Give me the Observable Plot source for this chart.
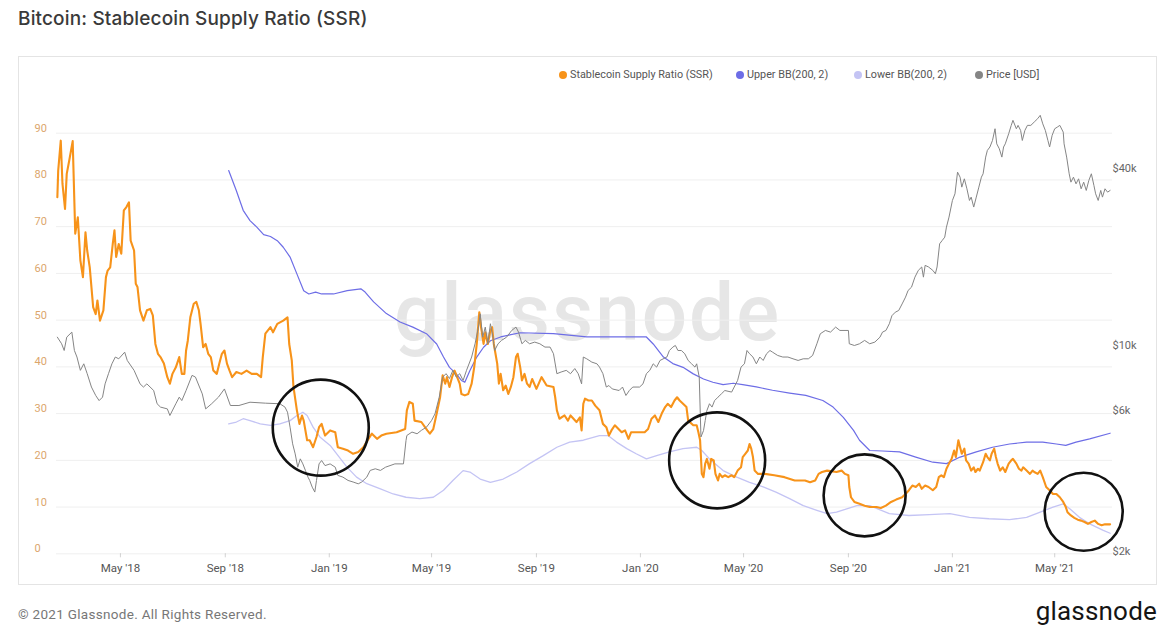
<!DOCTYPE html>
<html>
<head>
<meta charset="utf-8">
<script src="https://cdn.jsdelivr.net/npm/d3@7"></script>
<script src="https://cdn.jsdelivr.net/npm/@observablehq/plot@0.6"></script>
<style>
  html, body { margin: 0; padding: 0; background: #fff; }
  body { width: 1173px; height: 641px; position: relative; overflow: hidden; font-family: Inter, Roboto, "Noto Sans", sans-serif; }
  #title { position: absolute; left: 18px; top: 8px; font-size: 19px; line-height: 22px; font-weight: 500; color: #3a3a3a; white-space: nowrap; letter-spacing: 0.15px; }
  #box { position: absolute; left: 18px; top: 56px; width: 1139px; height: 529px; border: 1px solid #e4e4e4; box-sizing: border-box; }
  #watermark { position: absolute; left: 0; width: 1175px; top: 273px; text-align: center; font-family: Roboto, sans-serif; font-weight: 500; font-size: 80px; line-height: 80px; letter-spacing: 2px; color: #e6e6e6; white-space: nowrap; }
  .legend-item { position: absolute; top: 68px; height: 14px; line-height: 14px; font-size: 10.8px; color: #555; white-space: nowrap; font-family: Roboto, sans-serif; }
  .legend-dot { position: absolute; top: 71px; width: 8px; height: 8px; border-radius: 50%; }
  #chart { position: absolute; left: 18px; top: 95px; }
  #copyright { position: absolute; left: 18px; top: 606px; font-size: 13.5px; line-height: 17px; color: #777; font-family: Roboto, sans-serif; letter-spacing: 0.3px; }
  #logo { position: absolute; right: 16px; top: 596px; font-size: 26px; line-height: 30px; color: #151515; font-family: Roboto, sans-serif; letter-spacing: 0.2px; }
</style>
</head>
<body>
<div id="title">Bitcoin: Stablecoin Supply Ratio (SSR)</div>
<div id="box"></div>
<div id="watermark">glassnode</div>
<div id="legend"></div>
<div id="chart"></div>
<div id="copyright">© 2021 Glassnode. All Rights Reserved.</div>
<div id="logo">glassnode</div>
<script>
// Stablecoin Supply Ratio (left axis)
const ssr = [
  ["2018-02-16",76.3],["2018-02-17",82.0],["2018-02-20",88.4],["2018-02-22",79.2],["2018-02-25",73.8],["2018-02-27",81.3],
  ["2018-03-02",84.2],["2018-03-06",88.3],["2018-03-09",68.5],["2018-03-12",72.0],["2018-03-15",62.8],["2018-03-18",59.2],
  ["2018-03-21",68.8],["2018-03-23",64.9],["2018-03-26",61.3],["2018-03-30",52.8],["2018-04-02",51.3],["2018-04-04",54.2],
  ["2018-04-07",49.9],["2018-04-11",52.1],["2018-04-14",59.2],["2018-04-16",60.6],["2018-04-19",61.3],["2018-04-22",66.3],
  ["2018-04-24",69.2],["2018-04-26",63.5],["2018-04-29",66.3],["2018-05-02",64.2],["2018-05-05",73.5],["2018-05-08",74.2],
  ["2018-05-11",75.2],["2018-05-13",67.0],["2018-05-17",64.9],["2018-05-19",57.8],["2018-05-21",57.1],["2018-05-24",52.1],
  ["2018-05-28",49.9],["2018-06-01",52.1],["2018-06-05",52.4],["2018-06-08",51.0],["2018-06-11",44.9],["2018-06-14",42.8],
  ["2018-06-17",42.1],["2018-06-21",40.7],["2018-06-25",37.8],["2018-06-28",36.4],["2018-07-01",38.5],["2018-07-05",39.9],
  ["2018-07-09",42.1],["2018-07-12",38.5],["2018-07-15",38.5],["2018-07-17",43.5],["2018-07-19",45.6],["2018-07-22",50.6],
  ["2018-07-26",53.5],["2018-07-29",53.9],["2018-08-01",52.1],["2018-08-03",49.2],["2018-08-06",44.2],["2018-08-09",44.9],
  ["2018-08-12",42.8],["2018-08-15",42.1],["2018-08-18",39.2],["2018-08-22",38.5],["2018-08-25",40.7],["2018-08-28",42.8],
  ["2018-08-31",43.5],["2018-09-03",40.7],["2018-09-06",39.2],["2018-09-09",37.8],["2018-09-14",38.9],["2018-09-20",38.5],
  ["2018-09-26",39.2],["2018-10-02",38.5],["2018-10-08",38.5],["2018-10-13",37.8],["2018-10-15",42.1],["2018-10-18",47.1],
  ["2018-10-24",48.5],["2018-10-27",47.4],["2018-11-01",49.2],["2018-11-08",49.9],["2018-11-13",50.6],["2018-11-15",44.9],
  ["2018-11-18",41.4],["2018-11-20",35.7],["2018-11-24",30.7],["2018-11-27",27.8],["2018-11-30",29.6],["2018-12-02",28.5],
  ["2018-12-06",24.3],["2018-12-09",24.3],["2018-12-13",22.8],["2018-12-17",25.0],["2018-12-20",27.1],["2018-12-23",27.8],
  ["2018-12-27",25.3],["2019-01-02",26.4],["2019-01-08",26.0],["2019-01-11",22.8],["2019-01-17",22.5],["2019-01-23",22.1],
  ["2019-01-29",21.4],["2019-02-04",21.8],["2019-02-10",22.8],["2019-02-16",24.6],["2019-02-20",25.7],["2019-02-26",24.6],
  ["2019-03-03",25.3],["2019-03-09",25.7],["2019-03-21",26.0],["2019-03-31",26.7],["2019-04-02",30.7],["2019-04-05",32.5],
  ["2019-04-09",32.1],["2019-04-11",28.5],["2019-04-19",28.2],["2019-04-26",26.4],["2019-04-29",25.7],["2019-05-03",26.7],
  ["2019-05-07",30.0],["2019-05-11",33.5],["2019-05-14",38.2],["2019-05-17",36.4],["2019-05-19",37.8],["2019-05-22",35.7],
  ["2019-05-25",37.8],["2019-05-28",39.2],["2019-05-31",37.8],["2019-06-03",36.4],["2019-06-05",34.2],["2019-06-09",33.9],
  ["2019-06-13",34.2],["2019-06-17",36.4],["2019-06-20",39.9],["2019-06-23",44.9],["2019-06-26",51.7],["2019-06-28",48.5],
  ["2019-07-01",44.9],["2019-07-03",47.4],["2019-07-06",44.9],["2019-07-09",47.8],["2019-07-11",48.5],["2019-07-13",44.9],
  ["2019-07-17",40.7],["2019-07-19",36.4],["2019-07-21",38.5],["2019-07-24",35.0],["2019-07-27",36.0],["2019-07-30",34.2],
  ["2019-08-02",35.7],["2019-08-05",37.8],["2019-08-08",42.1],["2019-08-10",42.8],["2019-08-13",39.9],["2019-08-15",37.1],
  ["2019-08-18",38.5],["2019-08-21",36.4],["2019-08-24",35.7],["2019-08-27",37.4],["2019-09-01",35.3],["2019-09-07",37.8],
  ["2019-09-13",36.0],["2019-09-21",35.7],["2019-09-23",33.5],["2019-09-25",30.7],["2019-09-28",28.9],["2019-10-04",29.6],
  ["2019-10-08",28.5],["2019-10-11",29.6],["2019-10-18",28.2],["2019-10-22",29.2],["2019-10-24",26.4],["2019-10-26",32.1],
  ["2019-10-28",33.2],["2019-11-01",32.8],["2019-11-05",32.8],["2019-11-09",31.7],["2019-11-14",30.7],["2019-11-18",27.8],
  ["2019-11-22",27.1],["2019-11-25",25.3],["2019-11-28",26.4],["2019-12-02",27.5],["2019-12-10",26.0],["2019-12-14",26.4],
  ["2019-12-18",24.6],["2019-12-21",26.0],["2019-12-29",26.0],["2020-01-06",26.0],["2020-01-10",26.7],["2020-01-14",28.9],
  ["2020-01-18",29.6],["2020-01-22",28.2],["2020-01-26",30.0],["2020-01-30",31.4],["2020-02-02",32.1],["2020-02-06",31.4],
  ["2020-02-10",32.8],["2020-02-13",33.5],["2020-02-16",32.8],["2020-02-20",32.1],["2020-02-24",31.4],["2020-02-26",28.5],
  ["2020-03-03",27.5],["2020-03-07",27.5],["2020-03-09",26.0],["2020-03-11",24.3],["2020-03-13",17.1],["2020-03-15",16.4],
  ["2020-03-17",19.3],["2020-03-19",20.3],["2020-03-22",18.2],["2020-03-24",20.3],["2020-03-27",20.0],["2020-03-29",17.1],
  ["2020-04-01",15.7],["2020-04-03",17.1],["2020-04-06",16.4],["2020-04-09",16.8],["2020-04-13",16.4],["2020-04-17",16.8],
  ["2020-04-20",16.4],["2020-04-24",17.8],["2020-04-28",18.5],["2020-04-30",20.7],["2020-05-03",21.4],["2020-05-06",22.1],
  ["2020-05-08",23.5],["2020-05-10",22.5],["2020-05-12",20.7],["2020-05-14",17.8],["2020-05-18",17.1],["2020-05-26",17.1],
  ["2020-06-06",16.8],["2020-06-18",16.4],["2020-06-30",15.7],["2020-07-12",15.7],["2020-07-18",15.3],["2020-07-24",15.7],
  ["2020-07-28",17.1],["2020-08-01",17.5],["2020-08-07",17.8],["2020-08-18",17.5],["2020-08-24",17.8],["2020-08-28",17.1],
  ["2020-09-01",16.8],["2020-09-02",14.3],["2020-09-04",12.1],["2020-09-08",11.1],["2020-09-14",10.7],["2020-09-20",10.3],
  ["2020-09-26",10.0],["2020-10-04",10.0],["2020-10-09",9.8],["2020-10-15",10.3],["2020-10-21",11.1],["2020-10-27",11.6],
  ["2020-11-03",12.1],["2020-11-07",12.8],["2020-11-11",13.6],["2020-11-15",14.6],["2020-11-19",14.3],["2020-11-23",15.0],
  ["2020-11-26",13.9],["2020-11-30",14.6],["2020-12-04",14.3],["2020-12-09",13.6],["2020-12-13",14.3],["2020-12-16",16.4],
  ["2020-12-19",16.8],["2020-12-22",16.4],["2020-12-25",18.2],["2020-12-28",19.3],["2020-12-31",20.3],["2021-01-03",22.1],
  ["2021-01-05",20.7],["2021-01-08",24.3],["2021-01-10",22.8],["2021-01-12",21.4],["2021-01-15",22.5],["2021-01-17",20.0],
  ["2021-01-20",19.3],["2021-01-23",17.8],["2021-01-26",18.5],["2021-01-28",17.5],["2021-01-31",18.2],["2021-02-02",17.8],
  ["2021-02-06",19.6],["2021-02-09",21.4],["2021-02-11",20.7],["2021-02-14",20.0],["2021-02-16",21.4],["2021-02-19",22.5],
  ["2021-02-21",20.7],["2021-02-23",19.3],["2021-02-26",17.8],["2021-03-01",18.5],["2021-03-04",17.5],["2021-03-08",19.3],
  ["2021-03-11",20.0],["2021-03-13",20.3],["2021-03-17",19.3],["2021-03-20",18.2],["2021-03-23",17.8],["2021-03-25",18.5],
  ["2021-03-29",17.8],["2021-04-02",17.1],["2021-04-05",17.8],["2021-04-07",17.5],["2021-04-11",17.1],["2021-04-14",17.8],
  ["2021-04-17",16.4],["2021-04-21",14.3],["2021-04-25",13.6],["2021-04-29",12.8],["2021-05-03",12.8],["2021-05-07",12.1],
  ["2021-05-11",11.1],["2021-05-14",10.0],["2021-05-16",8.9],["2021-05-20",8.2],["2021-05-24",7.7],["2021-05-28",7.3],
  ["2021-06-01",7.1],["2021-06-05",6.8],["2021-06-09",6.4],["2021-06-13",6.8],["2021-06-17",7.1],["2021-06-21",6.4],
  ["2021-06-25",6.1],["2021-06-29",6.3],["2021-07-05",6.3]
];

// Upper Bollinger band, 200 days, 2 sigma
const upperBB = [
  ["2018-09-05",82.0],["2018-09-14",77.7],["2018-09-22",73.5],["2018-09-30",71.3],["2018-10-08",69.9],["2018-10-16",68.3],
  ["2018-10-24",67.9],["2018-11-01",67.0],["2018-11-08",65.6],["2018-11-16",63.5],["2018-11-24",59.9],["2018-12-02",56.3],
  ["2018-12-08",55.6],["2018-12-16",56.0],["2018-12-23",55.6],["2019-01-06",55.6],["2019-01-22",56.3],["2019-02-07",56.7],
  ["2019-02-12",56.0],["2019-02-22",53.9],["2019-03-09",51.4],["2019-03-25",49.6],["2019-04-09",48.5],["2019-04-25",47.1],
  ["2019-05-07",44.9],["2019-05-15",42.1],["2019-05-22",39.9],["2019-05-30",38.5],["2019-06-05",37.1],["2019-06-09",36.7],
  ["2019-06-15",39.2],["2019-06-23",42.1],["2019-07-01",44.2],["2019-07-09",45.6],["2019-07-21",46.4],["2019-08-02",46.9],
  ["2019-08-13",47.3],["2019-09-21",47.1],["2019-10-30",46.4],["2019-12-12",46.4],["2020-01-08",46.4],["2020-01-16",44.9],
  ["2020-01-28",42.1],["2020-02-08",40.7],["2020-02-20",39.9],["2020-03-03",38.5],["2020-03-15",37.4],["2020-03-26",36.7],
  ["2020-04-07",36.2],["2020-04-19",36.5],["2020-04-30",36.2],["2020-05-16",35.7],["2020-06-04",35.0],["2020-06-24",34.4],
  ["2020-07-13",33.9],["2020-08-02",32.8],["2020-08-14",31.4],["2020-08-26",29.2],["2020-09-07",26.4],["2020-09-14",24.3],
  ["2020-09-26",22.1],["2020-10-11",22.0],["2020-10-31",21.8],["2020-11-19",20.7],["2020-12-09",19.6],["2020-12-25",19.3],
  ["2021-01-10",20.7],["2021-01-29",21.8],["2021-02-17",22.8],["2021-03-09",23.5],["2021-03-29",23.9],["2021-04-17",23.9],
  ["2021-05-03",23.5],["2021-05-14",23.2],["2021-05-26",23.9],["2021-06-11",24.6],["2021-07-05",25.8]
];

// Lower Bollinger band, 200 days, 2 sigma
const lowerBB = [
  ["2018-09-05",27.8],["2018-09-14",28.2],["2018-09-22",28.9],["2018-09-30",28.5],["2018-10-12",27.8],["2018-10-24",27.5],
  ["2018-11-04",27.8],["2018-11-16",28.5],["2018-11-24",29.6],["2018-12-01",30.3],["2018-12-06",29.6],["2018-12-13",27.1],
  ["2018-12-21",25.0],["2019-01-02",23.2],["2019-01-22",18.5],["2019-02-02",16.4],["2019-02-14",15.0],["2019-03-02",13.9],
  ["2019-03-17",12.8],["2019-04-01",12.1],["2019-04-17",11.8],["2019-05-03",12.1],["2019-05-15",13.6],["2019-05-26",15.7],
  ["2019-06-07",17.8],["2019-06-15",17.5],["2019-06-27",16.0],["2019-07-09",15.3],["2019-07-24",16.0],["2019-08-09",17.5],
  ["2019-08-24",19.3],["2019-09-09",21.0],["2019-09-25",22.8],["2019-10-10",23.9],["2019-10-26",24.3],["2019-11-14",25.3],
  ["2019-11-24",25.3],["2019-12-04",23.9],["2019-12-16",22.5],["2019-12-27",21.4],["2020-01-08",20.3],["2020-01-20",21.0],
  ["2020-02-04",21.8],["2020-02-20",22.5],["2020-03-07",22.8],["2020-03-13",22.1],["2020-03-22",20.3],["2020-04-07",17.8],
  ["2020-04-23",16.4],["2020-05-08",15.3],["2020-05-24",14.3],["2020-06-08",13.2],["2020-06-24",11.8],["2020-07-10",10.3],
  ["2020-07-26",9.3],["2020-08-07",8.6],["2020-08-18",8.9],["2020-08-30",9.6],["2020-09-11",10.3],["2020-09-26",10.3],
  ["2020-10-19",8.6],["2020-11-11",8.2],["2020-12-05",8.4],["2020-12-29",8.6],["2021-01-21",7.8],["2021-02-13",7.5],
  ["2021-03-09",7.3],["2021-03-29",7.8],["2021-04-14",8.9],["2021-04-29",10.0],["2021-05-11",10.7],["2021-05-19",9.6],
  ["2021-05-30",7.8],["2021-06-11",6.4],["2021-06-27",5.0],["2021-07-05",4.4]
];

// BTC price in USD (right axis, log)
const price = [
  ["2018-02-16",11100],["2018-02-21",10540],["2018-02-24",10000],["2018-02-27",11100],["2018-03-05",11550],["2018-03-08",10000],
  ["2018-03-11",9500],["2018-03-15",8560],["2018-03-19",9010],["2018-03-23",8340],["2018-03-28",7510],["2018-04-02",7030],
  ["2018-04-06",6755],["2018-04-10",6940],["2018-04-13",7700],["2018-04-17",8340],["2018-04-21",9010],["2018-04-25",9500],
  ["2018-04-29",9370],["2018-05-06",9870],["2018-05-09",9250],["2018-05-17",8560],["2018-05-24",7700],["2018-05-28",7510],
  ["2018-06-01",7700],["2018-06-09",7310],["2018-06-13",6590],["2018-06-17",6420],["2018-06-25",6330],["2018-06-28",6010],
  ["2018-07-05",6590],["2018-07-09",6940],["2018-07-12",6755],["2018-07-17",7310],["2018-07-24",8230],["2018-07-28",8120],
  ["2018-08-05",7120],["2018-08-09",6330],["2018-08-16",6590],["2018-08-24",6940],["2018-08-31",7400],["2018-09-07",6500],
  ["2018-09-17",6500],["2018-09-30",6670],["2018-10-18",6620],["2018-11-04",6590],["2018-11-10",6420],["2018-11-13",6170],
  ["2018-11-16",5485],["2018-11-19",4815],["2018-11-22",4450],["2018-11-25",4010],["2018-11-28",4280],["2018-12-01",4115],
  ["2018-12-04",3910],["2018-12-07",3710],["2018-12-09",3615],["2018-12-12",3430],["2018-12-15",3300],["2018-12-17",3615],
  ["2018-12-20",4115],["2018-12-23",4225],["2018-12-27",4060],["2019-01-02",4115],["2019-01-08",4010],["2019-01-11",3760],
  ["2019-01-17",3710],["2019-01-23",3615],["2019-01-29",3570],["2019-02-04",3520],["2019-02-08",3570],["2019-02-14",3710],
  ["2019-02-18",3910],["2019-02-24",3960],["2019-03-02",3910],["2019-03-08",4010],["2019-03-19",4115],["2019-03-29",4115],
  ["2019-04-01",4940],["2019-04-02",5140],["2019-04-08",5280],["2019-04-14",5210],["2019-04-19",5350],["2019-04-25",5485],
  ["2019-05-01",5780],["2019-05-05",6090],["2019-05-10",6940],["2019-05-14",8120],["2019-05-18",8340],["2019-05-22",8030],
  ["2019-05-26",8560],["2019-05-30",8120],["2019-06-03",8340],["2019-06-07",7910],["2019-06-11",8560],["2019-06-17",9500],
  ["2019-06-21",10540],["2019-06-25",12010],["2019-06-27",13330],["2019-06-30",11100],["2019-07-03",12010],["2019-07-06",10540],
  ["2019-07-09",12330],["2019-07-12",11100],["2019-07-14",10000],["2019-07-18",10540],["2019-07-22",10820],["2019-07-28",11100],
  ["2019-08-03",11700],["2019-08-08",12010],["2019-08-11",11550],["2019-08-15",10540],["2019-08-19",10820],["2019-08-24",10540],
  ["2019-08-30",10680],["2019-09-05",10540],["2019-09-11",10270],["2019-09-17",10270],["2019-09-21",9750],["2019-09-25",8340],
  ["2019-09-30",8450],["2019-10-06",8560],["2019-10-11",8340],["2019-10-16",8680],["2019-10-20",8340],["2019-10-24",7700],
  ["2019-10-26",9500],["2019-10-30",9370],["2019-11-05",9130],["2019-11-11",9010],["2019-11-14",8780],["2019-11-18",8340],
  ["2019-11-22",7510],["2019-11-25",7600],["2019-11-29",7400],["2019-12-07",7310],["2019-12-11",7510],["2019-12-15",7030],
  ["2019-12-19",7310],["2019-12-23",7510],["2019-12-31",7510],["2020-01-04",7700],["2020-01-08",8340],["2020-01-12",8560],
  ["2020-01-16",9010],["2020-01-20",8780],["2020-01-24",9250],["2020-02-01",9500],["2020-02-04",10000],["2020-02-08",10270],
  ["2020-02-11",10400],["2020-02-14",10000],["2020-02-18",10000],["2020-02-22",9750],["2020-02-26",9250],["2020-03-01",9010],
  ["2020-03-05",8780],["2020-03-07",9010],["2020-03-10",8120],["2020-03-12",5080],["2020-03-15",5340],["2020-03-17",5780],
  ["2020-03-19",6250],["2020-03-22",6590],["2020-03-25",6420],["2020-03-28",6755],["2020-04-01",6940],["2020-04-05",7120],
  ["2020-04-09",7310],["2020-04-17",7220],["2020-04-20",7510],["2020-04-24",7910],["2020-04-28",8780],["2020-05-02",9010],
  ["2020-05-05",10000],["2020-05-08",9750],["2020-05-12",9500],["2020-05-16",9010],["2020-05-20",9500],["2020-05-24",9250],
  ["2020-05-28",9750],["2020-06-01",10000],["2020-06-04",9870],["2020-06-10",9620],["2020-06-16",9500],["2020-06-22",9500],
  ["2020-06-28",9370],["2020-07-04",9250],["2020-07-10",9370],["2020-07-16",9370],["2020-07-21",9620],["2020-07-26",10540],
  ["2020-07-30",11400],["2020-08-05",11700],["2020-08-11",11550],["2020-08-17",12010],["2020-08-22",11700],["2020-09-01",11700],
  ["2020-09-02",10540],["2020-09-08",10400],["2020-09-14",10540],["2020-09-20",10820],["2020-09-26",10540],["2020-10-02",10680],
  ["2020-10-08",11100],["2020-10-11",11550],["2020-10-15",11700],["2020-10-19",12330],["2020-10-22",13130],["2020-10-26",13500],
  ["2020-10-30",13680],["2020-11-03",14400],["2020-11-07",15190],["2020-11-10",16000],["2020-11-14",16420],["2020-11-18",17760],
  ["2020-11-22",18730],["2020-11-26",19230],["2020-11-28",17760],["2020-11-30",19480],["2020-12-04",19230],["2020-12-09",18730],
  ["2020-12-12",18240],["2020-12-14",19230],["2020-12-17",23060],["2020-12-20",23670],["2020-12-23",24290],["2020-12-25",26280],
  ["2020-12-28",28420],["2021-01-01",32380],["2021-01-04",34110],["2021-01-07",40420],["2021-01-10",38860],["2021-01-12",35940],
  ["2021-01-15",38360],["2021-01-18",35480],["2021-01-21",32380],["2021-01-23",33240],["2021-01-26",30750],["2021-01-29",33240],
  ["2021-02-01",35940],["2021-02-04",38860],["2021-02-06",39900],["2021-02-09",45470],["2021-02-11",47920],["2021-02-14",49210],
  ["2021-02-17",51800],["2021-02-20",56780],["2021-02-22",50450],["2021-02-25",48540],["2021-02-28",45470],["2021-03-02",49210],
  ["2021-03-04",50450],["2021-03-08",54600],["2021-03-11",58300],["2021-03-13",60650],["2021-03-17",56780],["2021-03-19",58300],
  ["2021-03-22",56030],["2021-03-24",51800],["2021-03-27",56030],["2021-03-30",58300],["2021-04-03",58300],["2021-04-07",59850],
  ["2021-04-11",61440],["2021-04-14",63070],["2021-04-17",59000],["2021-04-20",56030],["2021-04-23",51800],["2021-04-25",49210],
  ["2021-04-28",53930],["2021-05-01",56780],["2021-05-04",57500],["2021-05-07",58300],["2021-05-11",55300],["2021-05-12",50450],
  ["2021-05-15",45470],["2021-05-18",39900],["2021-05-20",37370],["2021-05-23",38860],["2021-05-26",36880],["2021-05-29",38360],
  ["2021-06-01",35480],["2021-06-04",37370],["2021-06-07",35020],["2021-06-10",37860],["2021-06-13",39900],["2021-06-16",36400],
  ["2021-06-18",34110],["2021-06-21",32380],["2021-06-24",35020],["2021-06-26",33240],["2021-06-29",35480],["2021-07-02",34560],
  ["2021-07-05",35020]
];

// Highlighted moments where SSR dips to its lower band
const highlights = [
  ["2018-12-22", 27.0], ["2020-03-31", 20.0], ["2020-09-20", 12.5], ["2021-06-04", 9.0]
];

// Axis ticks
const ssrTicks = [0, 10, 20, 30, 40, 50, 60, 70, 80, 90];
const priceTicks = [2000, 6000, 10000, 40000];
const priceTickLabels = ["$2k", "$6k", "$10k", "$40k"];
const monthTicks = ["2018-05-01","2018-09-01","2019-01-01","2019-05-01","2019-09-01","2020-01-01",
                    "2020-05-01","2020-09-01","2021-01-01","2021-05-01"];
const xDomain = ["2018-02-15", "2021-07-07T19:00"];

// Series legend
const seriesNames = ["Stablecoin Supply Ratio (SSR)", "Upper BB(200, 2)", "Lower BB(200, 2)", "Price [USD]"];
const seriesColors = ["#f7931a", "#6d6de6", "#c4c4f4", "#858585"];

// ---- presentation ----
const legendDotX = [559, 736, 854, 975];
const ringRadius = [48, 48, 41, 39];
// price axis: log scale laid over the SSR range [0, 90]
const priceAtZero = 2035, priceAtTop = 54830;

const parse = d3.utcParse("%Y-%m-%d");
const rows = pairs => pairs.map(([d, v]) => ({date: parse(d), value: v}));
const lp0 = Math.log10(priceAtZero), lp1 = Math.log10(priceAtTop);
const priceToAxis = p => 90 * (Math.log10(p) - lp0) / (lp1 - lp0);

const legend = document.getElementById("legend");
seriesNames.forEach((name, i) => {
  const dot = document.createElement("div");
  dot.className = "legend-dot";
  dot.style.left = legendDotX[i] + "px";
  dot.style.background = seriesColors[i];
  legend.appendChild(dot);
  const label = document.createElement("div");
  label.className = "legend-item";
  label.style.left = (legendDotX[i] + 11) + "px";
  label.textContent = name;
  legend.appendChild(label);
});

const priceRows = price.map(([d, v]) => ({date: parse(d), value: priceToAxis(v)}));
const priceTickRows = priceTicks.map((p, i) => ({value: priceToAxis(p), label: priceTickLabels[i]}));
const highlightRows = rows(highlights);

const chart = Plot.plot({
  width: 1139,
  height: 490,
  marginLeft: 38,
  marginRight: 45,
  marginTop: 37.7,
  marginBottom: 31.7,
  style: {background: "transparent", overflow: "visible", fontFamily: "Roboto, sans-serif"},
  x: {type: "utc", domain: xDomain.map(d => new Date(d + (d.length > 10 ? "Z" : "T00:00Z"))), label: null},
  y: {domain: [0, 90], axis: null},
  marks: [
    Plot.ruleY(ssrTicks, {stroke: "#efefef", strokeWidth: 1}),
    Plot.text(ssrTicks, {y: d => d, text: d => String(d), frameAnchor: "left", textAnchor: "start",
                         dx: -22, dy: -5, fill: "#dca66c", fontSize: 11}),
    Plot.text(priceTickRows, {y: "value", text: "label", frameAnchor: "right", textAnchor: "start",
                              dx: 0, dy: -5, fill: "#666", fontSize: 11}),
    Plot.axisX(monthTicks.map(parse), {tickFormat: d3.utcFormat("%b '%y"), tickSize: 4, tickPadding: 6,
                                       color: "#555", strokeOpacity: 0.25, fontSize: 11.5, label: null}),
    Plot.line(rows(lowerBB), {x: "date", y: "value", stroke: seriesColors[2], strokeWidth: 1.3}),
    Plot.line(rows(upperBB), {x: "date", y: "value", stroke: seriesColors[1], strokeWidth: 1.2}),
    Plot.line(rows(ssr), {x: "date", y: "value", stroke: seriesColors[0], strokeWidth: 2.1}),
    Plot.line(priceRows, {x: "date", y: "value", stroke: seriesColors[3], strokeWidth: 1}),
    ...highlightRows.map((d, i) =>
      Plot.dot([d], {x: "date", y: "value", r: ringRadius[i], stroke: "#111", strokeWidth: 2.6, fill: "none"}))
  ]
});
document.getElementById("chart").appendChild(chart);
</script>
</body>
</html>
